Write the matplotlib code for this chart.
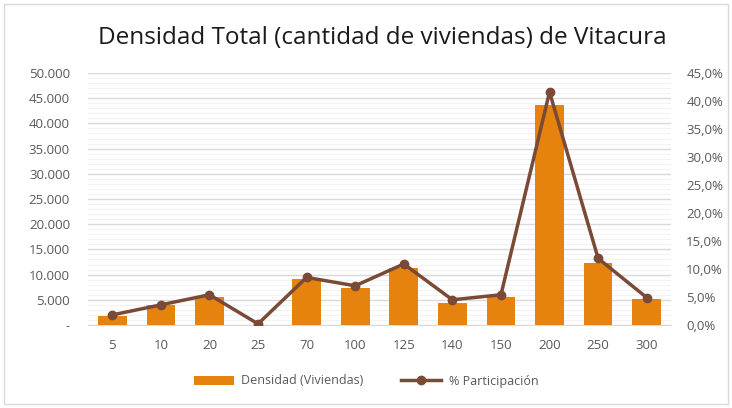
import numpy as np
import matplotlib.pyplot as plt
from matplotlib.ticker import FuncFormatter, MultipleLocator
from matplotlib.patches import Rectangle

# data
categorias = ['5', '10', '20', '25', '70', '100', '125', '140', '150', '200', '250', '300']
densidad = [1800, 3950, 5500, 0, 9100, 7350, 11250, 4400, 5500, 43700, 12400, 5100]
participacion = [1.8, 3.6, 5.4, 0.2, 8.5, 7.0, 10.9, 4.5, 5.4, 41.6, 11.9, 4.9]

plt.rcParams['font.family'] = ['Open Sans', 'DejaVu Sans']

fig = plt.figure(figsize=(7.32, 4.08), dpi=100)
ax = fig.add_axes([88/732, 1 - 325/408, (671 - 88)/732, (325 - 73)/408])
ax2 = ax.twinx()

x = np.arange(len(categorias))
bars = ax.bar(x, densidad, width=0.59, color='#E6820E', label='Densidad (Viviendas)', zorder=3)
line, = ax2.plot(x, participacion, color='#7B4A36', lw=2.5, marker='o', ms=6,
                 label='% Participación', zorder=4)

ax.set_xlim(-0.5, len(categorias) - 0.5)
ax.set_ylim(0, 50000)
ax2.set_ylim(0, 45)
ax.set_xticks(x)
ax.set_xticklabels(categorias)

def miles(v, pos):
    if v == 0:
        return '-'
    return f'{int(v):,}'.replace(',', '.')

def porc(v, pos):
    return f'{v:.1f}%'.replace('.', ',')

ax.yaxis.set_major_locator(MultipleLocator(5000))
ax.yaxis.set_major_formatter(FuncFormatter(miles))
ax.yaxis.set_minor_locator(MultipleLocator(1000))
ax2.yaxis.set_major_locator(MultipleLocator(5))
ax2.yaxis.set_major_formatter(FuncFormatter(porc))

ax.grid(axis='y', which='major', color='#D9D9D9', lw=1, zorder=0)
ax.grid(axis='y', which='minor', color='#F2F2F2', lw=0.8, zorder=0)
ax.set_axisbelow(True)

for a in (ax, ax2):
    for s in a.spines.values():
        s.set_visible(False)
    a.tick_params(length=0, labelsize=9.5, colors='#595959')
ax.spines['bottom'].set_visible(True)
ax.spines['bottom'].set_color('#D9D9D9')
ax.tick_params(axis='x', pad=10)
ax.tick_params(axis='y', which='both', length=0, pad=13)
ax2.tick_params(axis='y', pad=11)

fig.text(382/732, 1 - 38/408, 'Densidad Total (cantidad de viviendas) de Vitacura',
         ha='center', va='center', fontsize=17.5, color='#1A1A1A')

fig.legend(handles=[bars, line], loc='center', bbox_to_anchor=(0.5, 1 - 381/408),
           ncol=2, frameon=False, fontsize=9, labelcolor='#595959',
           handlelength=3.2, handletextpad=0.6, columnspacing=3)

fig.patches.append(Rectangle((4/732, 4/408), 1 - 8/732, 1 - 8/408, transform=fig.transFigure,
                             fill=False, edgecolor='#D9D9D9', lw=1))

fig.savefig('out.png', dpi=100)
